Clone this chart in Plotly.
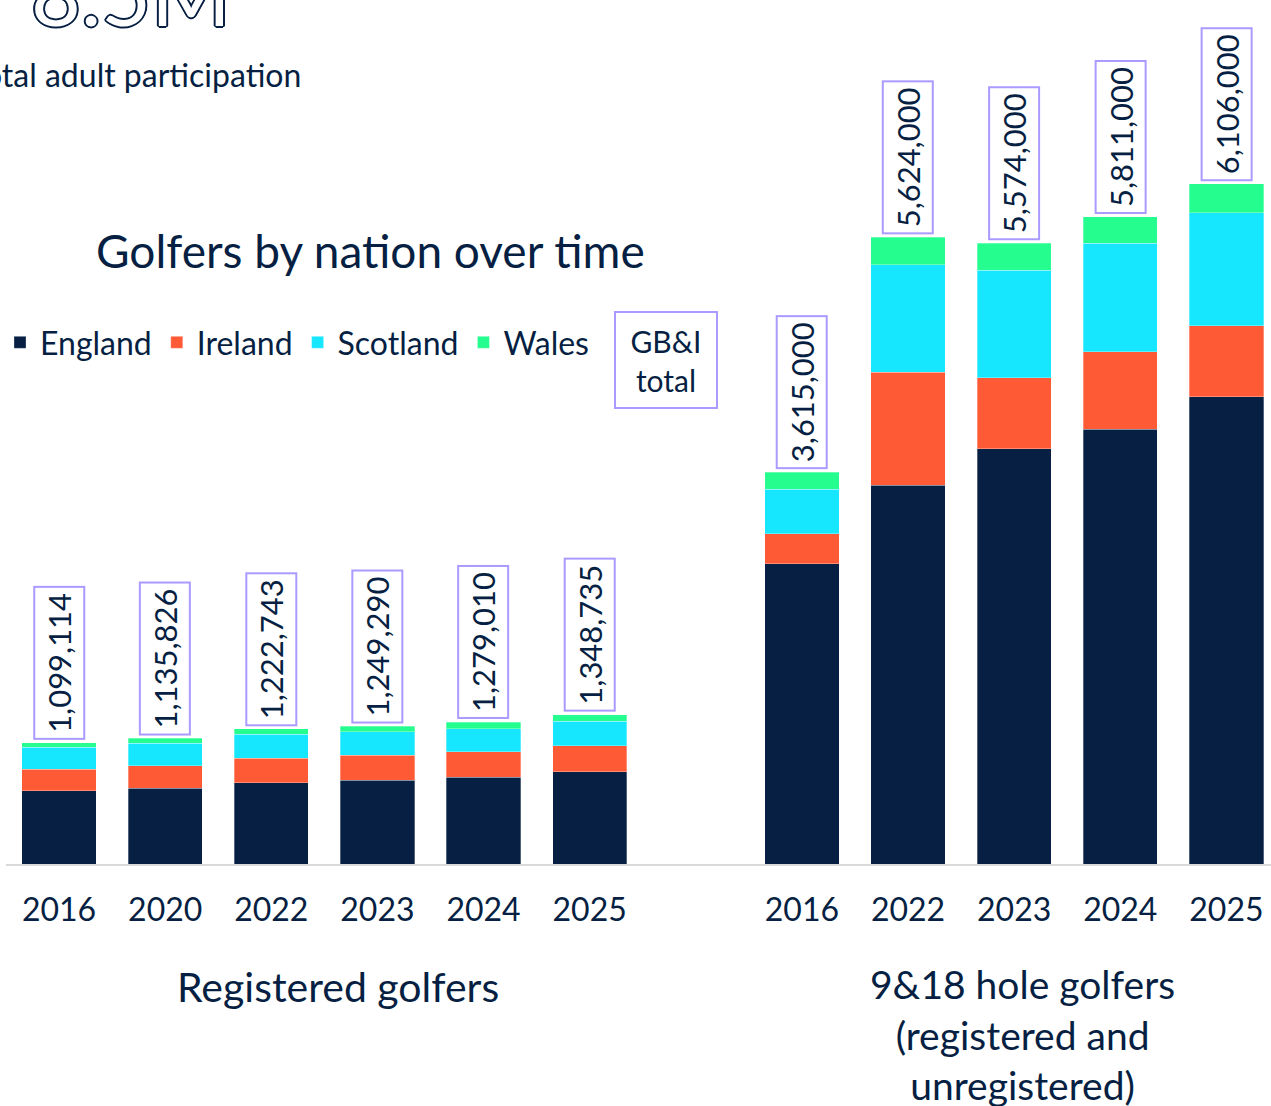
import plotly.graph_objects as go

# Registered golfers (by nation)
reg_years = ["2016", "2020", "2022", "2023", "2024", "2025"]
reg_england = [658000, 682000, 730000, 754000, 778000, 829000]
reg_ireland = [192000, 200000, 219000, 224000, 230000, 233000]
reg_scotland = [197000, 201000, 215000, 209000, 206000, 219000]
reg_wales = [41000, 45000, 48000, 51000, 57000, 57000]
reg_totals = [1099114, 1135826, 1222743, 1249290, 1279010, 1348735]

# 9&18 hole golfers, registered and unregistered (by nation)
all_years = ["2016", "2022", "2023", "2024", "2025"]
all_england = [2696000, 3402000, 3728000, 3902000, 4195000]
all_ireland = [267000, 1012000, 637000, 697000, 637000]
all_scotland = [401000, 966000, 967000, 973000, 1014000]
all_wales = [153000, 246000, 242000, 239000, 260000]
all_totals = [3615000, 5624000, 5574000, 5811000, 6106000]

nations = ["England", "Ireland", "Scotland", "Wales"]
colors = ["#061f42", "#ff5a36", "#16e7ff", "#25fd8f"]
navy = "#061f42"
lavender = "#a99bff"
FONT = "Lato"

# x slots: registered bars, one empty slot, then the 9&18 bars
x_reg = list(range(len(reg_years)))
x_all = [len(reg_years) + 1 + i for i in range(len(all_years))]
x_pos = x_reg + x_all
ticks = reg_years + all_years

series = {
    "England": reg_england + all_england,
    "Ireland": reg_ireland + all_ireland,
    "Scotland": reg_scotland + all_scotland,
    "Wales": reg_wales + all_wales,
}

fig = go.Figure()
for name, col in zip(nations, colors):
    fig.add_trace(go.Bar(
        x=x_pos,
        y=series[name],
        name=name,
        width=0.7,
        marker=dict(color=col, line=dict(color="rgba(255,255,255,0.5)", width=0.6)),
        hoverinfo="skip",
    ))

# total labels on top of each bar
stack_tops = [sum(v) for v in zip(*series.values())]
labels = reg_totals + all_totals
annotations = []
for xp, top, lab in zip(x_pos, stack_tops, labels):
    annotations.append(dict(
        x=xp, y=top, xref="x", yref="y",
        text=f"{lab:,}", textangle=-90,
        showarrow=False, yanchor="bottom", yshift=3,
        font=dict(family=FONT, size=31, color=navy),
        bordercolor=lavender, borderwidth=2, borderpad=5, bgcolor="white",
    ))

# headline figure (cut off at the top of the page)
annotations.append(dict(
    x=(233 - 6) / 1265, y=1 + 7 / 864, xref="paper", yref="paper",
    xanchor="right", yanchor="middle", showarrow=False,
    text="8.5M",
    font=dict(family=FONT, size=86, color="white",
              shadow="2px 0 #061f42, -2px 0 #061f42, 0 2px #061f42, 0 -2px #061f42, "
                     "1.4px 1.4px #061f42, -1.4px -1.4px #061f42, 1.4px -1.4px #061f42, -1.4px 1.4px #061f42"),
))
annotations.append(dict(
    x=(303 - 6) / 1265, y=1 - 74 / 864, xref="paper", yref="paper",
    xanchor="right", yanchor="middle", showarrow=False,
    text="Total adult participation",
    font=dict(family=FONT, size=32, color=navy),
))
annotations.append(dict(
    x=(370 - 6) / 1265, y=1 - 250 / 864, xref="paper", yref="paper",
    xanchor="center", yanchor="middle", showarrow=False,
    text="Golfers by nation over time",
    font=dict(family=FONT, size=46, color=navy),
))
annotations.append(dict(
    x=(666 - 6) / 1265, y=1 - 360 / 864, xref="paper", yref="paper",
    xanchor="center", yanchor="middle", showarrow=False,
    text="GB&I<br>total", align="center",
    width=84, height=78,
    font=dict(family=FONT, size=30, color=navy),
    bordercolor=lavender, borderwidth=2, borderpad=8,
))
annotations.append(dict(
    x=(338 - 6) / 1265, y=1 - 986 / 864, xref="paper", yref="paper",
    xanchor="center", yanchor="middle", showarrow=False,
    text="Registered golfers",
    font=dict(family=FONT, size=41, color=navy),
))
annotations.append(dict(
    x=(1022 - 6) / 1265, y=1 - 1034 / 864, xref="paper", yref="paper",
    xanchor="center", yanchor="middle", showarrow=False,
    text="9&18 hole golfers<br>(registered and<br>unregistered)",
    font=dict(family=FONT, size=39, color=navy),
))

fig.update_layout(
    width=1271, height=1106,
    margin=dict(l=6, r=0, t=0, b=242),
    barmode="stack",
    bargap=0.3,
    plot_bgcolor="white",
    paper_bgcolor="white",
    font=dict(family=FONT, color=navy),
    showlegend=True,
    legend=dict(
        orientation="h", x=-0.005, y=1 - 315 / 864,
        xanchor="left", yanchor="top",
        font=dict(family=FONT, size=32, color=navy),
        traceorder="normal", bgcolor="rgba(0,0,0,0)",
    ),
    xaxis=dict(
        range=[-0.5, 11.42], tickvals=x_pos, ticktext=ticks,
        showgrid=False, zeroline=False,
        showline=True, linecolor="#d9d9d9", linewidth=2,
        tickfont=dict(family=FONT, size=32, color=navy),
        ticks="", ticklabelstandoff=17,
    ),
    yaxis=dict(
        range=[0, 7756000], visible=False, showgrid=False, zeroline=False,
    ),
    annotations=annotations,
)

fig.write_html("out.html", config={"displayModeBar": False},
               post_script="document.body.style.margin='0';")
